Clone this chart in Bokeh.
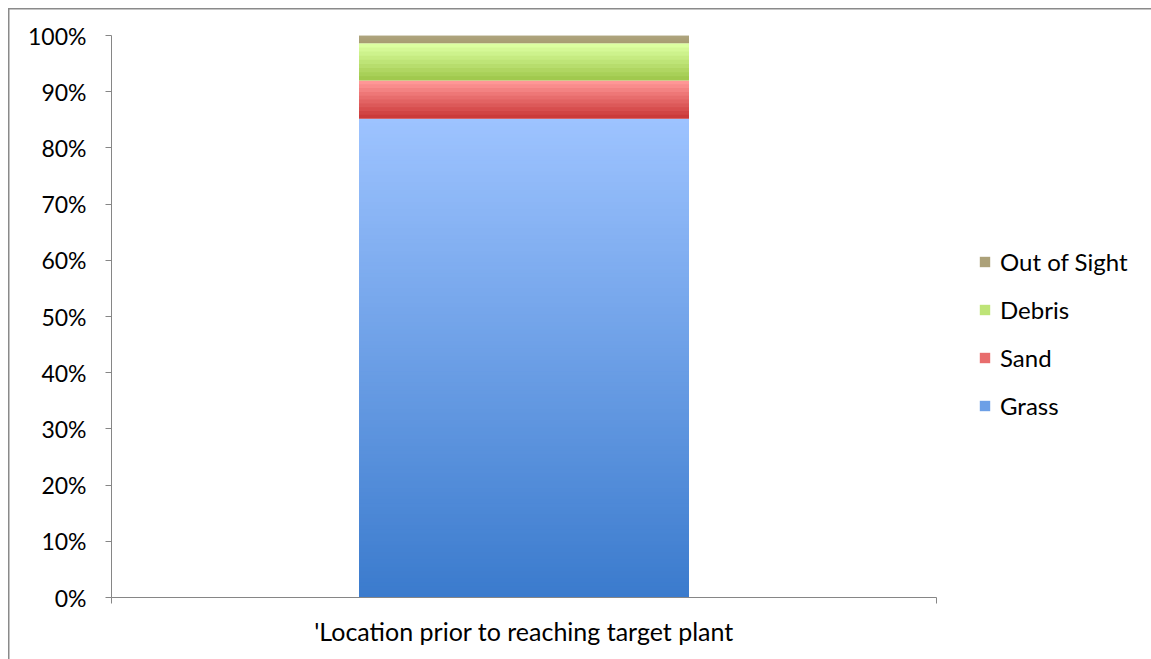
import numpy as np
from bokeh.plotting import figure
from bokeh.models import (Range1d, FixedTicker, NumeralTickFormatter, Legend, LegendItem,
                          ColumnDataSource)
from bokeh.embed import file_html
from bokeh.resources import INLINE

# ---- data ----
category = "'Location prior to reaching target plant"
series = ["Grass", "Sand", "Debris", "Out of Sight"]
shares = [0.852, 0.068, 0.066, 0.014]
y_ticks = [0, 0.1, 0.2, 0.3, 0.4, 0.5, 0.6, 0.7, 0.8, 0.9, 1.0]

# ---- styles ----
grad_top = {"Grass": "#9DC3FF", "Sand": "#FF9696", "Debris": "#DCFFA0", "Out of Sight": "#AEA47E"}
grad_bot = {"Grass": "#3B7BCD", "Sand": "#CB3A3A", "Debris": "#A1C94E", "Out of Sight": "#A89C72"}
FONT = "Lato"
AXIS_COL = "#868686"
BORDER = "#8A8A8A"

def hex2rgb(h):
    h = h.lstrip("#")
    return np.array([int(h[i:i + 2], 16) for i in (0, 2, 4)], dtype=float)

def rgb2hex(c):
    return "#%02x%02x%02x" % tuple(int(round(v)) for v in c)

p = figure(width=1151, height=659, output_backend="svg", toolbar_location=None,
           x_range=Range1d(0, 1), y_range=Range1d(0, 1),
           min_border_left=111, min_border_right=215, min_border_top=35, min_border_bottom=62)
p.frame_width = 825
p.frame_height = 562
p.outline_line_color = None
p.grid.visible = False
p.background_fill_color = "white"
p.border_fill_alpha = 0
p.styles = {
    "background-color": "white",
    "background-image": f"linear-gradient({BORDER},{BORDER}), linear-gradient({BORDER},{BORDER})",
    "background-size": "1.5px 100%, 100% 1.5px",
    "background-position": "8px 8px, 8px 8px",
    "background-repeat": "no-repeat",
}

# stacked bar with vertical gradient (slices computed from the data values)
bottom = 0.0
seg_renderers = {}
for name, v in zip(series, shares):
    N = max(6, int(v * 150))
    edges = np.linspace(bottom, bottom + v, N + 1)
    t = np.linspace(0, 1, N)  # 0 = bottom, 1 = top
    c0, c1 = hex2rgb(grad_bot[name]), hex2rgb(grad_top[name])
    cols = [rgb2hex(c0 + (c1 - c0) * tt) for tt in t]
    tops = edges[1:].copy()
    tops[:-1] += 0.003  # overlap inner slices to hide seams
    src = ColumnDataSource(dict(x=[0.5] * N, b=edges[:-1], t=tops, c=cols))
    r = p.vbar(x="x", bottom="b", top="t", width=0.4, source=src, fill_color="c", line_color=None)
    seg_renderers[name] = (r, N)
    bottom += v

# legend: swatch uses the middle colour of each segment
items = []
for name in reversed(series):
    r, N = seg_renderers[name]
    items.append(LegendItem(label=name, renderers=[r], index=N // 2))
legend = Legend(items=items, location=(42, 177), orientation="vertical",
                glyph_width=13, glyph_height=13, label_height=20, spacing=19,
                label_text_font=FONT, label_text_font_size="24px", label_text_color="#000000",
                label_standoff=9, padding=0, margin=0, border_line_color=None,
                background_fill_alpha=0)
p.add_layout(legend, "right")

# y axis
ya = p.yaxis[0]
ya.ticker = FixedTicker(ticks=y_ticks)
ya.formatter = NumeralTickFormatter(format="0%")
ya.axis_line_color = AXIS_COL
ya.major_tick_line_color = AXIS_COL
ya.major_tick_out = 6
ya.major_tick_in = 0
ya.minor_tick_line_color = None
ya.major_label_text_font = FONT
ya.major_label_text_font_size = "23px"
ya.major_label_text_color = "#000000"
ya.major_label_standoff = 19

# x axis
xa = p.xaxis[0]
xa.ticker = FixedTicker(ticks=[0, 1])
xa.major_label_overrides = {0: "", 1: ""}
xa.axis_line_color = AXIS_COL
xa.major_tick_line_color = AXIS_COL
xa.major_tick_out = 6
xa.major_tick_in = 0
xa.minor_tick_line_color = None
xa.axis_label = category
xa.axis_label_text_font = FONT
xa.axis_label_text_font_size = "25px"
xa.axis_label_text_font_style = "normal"
xa.axis_label_text_color = "#000000"
xa.axis_label_standoff = 12

open("out.html", "w").write(file_html(p, INLINE))
